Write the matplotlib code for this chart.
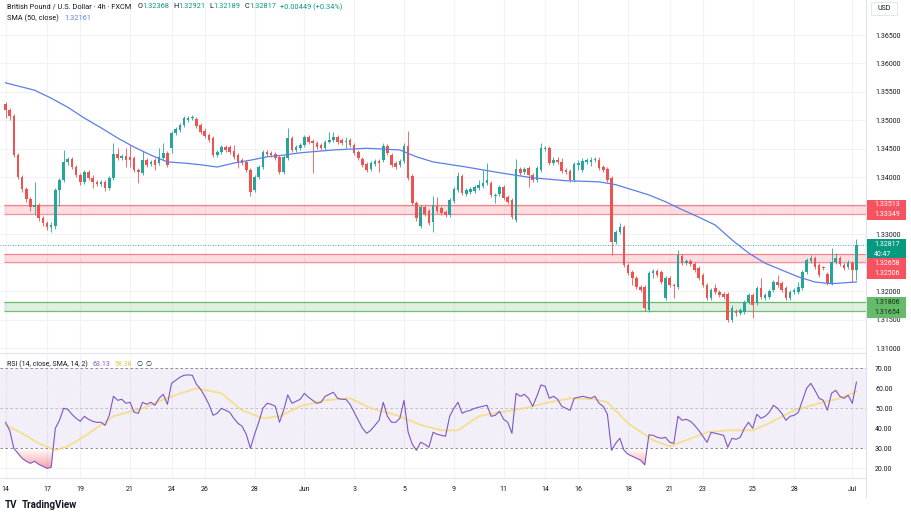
import numpy as np
import matplotlib
matplotlib.use("Agg")
import matplotlib.pyplot as plt
from matplotlib.colors import LinearSegmentedColormap
from matplotlib.path import Path
from matplotlib.patches import Rectangle

plt.rcParams['font.family'] = ['Roboto', 'DejaVu Sans']

# GBP/USD 4h candles (FXCM)
opens = [
    1.3529, 1.3518, 1.3508, 1.3439, 1.3401, 1.3380, 1.3362, 1.3348, 1.3351, 1.3328,
    1.3320, 1.3313, 1.3314, 1.3378, 1.3395, 1.3427, 1.3432, 1.3418, 1.3404, 1.3392,
    1.3409, 1.3399, 1.3392, 1.3388, 1.3392, 1.3381, 1.3399, 1.3441, 1.3434, 1.3437,
    1.3436, 1.3434, 1.3413, 1.3408, 1.3430, 1.3423, 1.3430, 1.3425, 1.3434, 1.3443,
    1.3451, 1.3478, 1.3483, 1.3492, 1.3501, 1.3504, 1.3502, 1.3492, 1.3481, 1.3474,
    1.3469, 1.3439, 1.3444, 1.3453, 1.3453, 1.3446, 1.3439, 1.3430, 1.3427, 1.3413,
    1.3378, 1.3401, 1.3418, 1.3444, 1.3443, 1.3441, 1.3436, 1.3409, 1.3434, 1.3469,
    1.3448, 1.3451, 1.3457, 1.3471, 1.3464, 1.3460, 1.3457, 1.3451, 1.3462, 1.3466,
    1.3471, 1.3466, 1.3462, 1.3466, 1.3457, 1.3444, 1.3432, 1.3423, 1.3415, 1.3423,
    1.3429, 1.3430, 1.3455, 1.3439, 1.3425, 1.3422, 1.3429, 1.3455, 1.3402, 1.3355,
    1.3314, 1.3348, 1.3341, 1.3321, 1.3349, 1.3346, 1.3339, 1.3334, 1.3358, 1.3378,
    1.3402, 1.3371, 1.3374, 1.3376, 1.3381, 1.3385, 1.3390, 1.3390, 1.3367, 1.3371,
    1.3383, 1.3365, 1.3360, 1.3325, 1.3415, 1.3409, 1.3416, 1.3404, 1.3395, 1.3413,
    1.3450, 1.3451, 1.3425, 1.3430, 1.3427, 1.3413, 1.3411, 1.3395, 1.3422, 1.3413,
    1.3427, 1.3427, 1.3430, 1.3430, 1.3418, 1.3415, 1.3399, 1.3286, 1.3304, 1.3313,
    1.3246, 1.3234, 1.3223, 1.3207, 1.3207, 1.3167, 1.3232, 1.3235, 1.3234, 1.3188,
    1.3223, 1.3211, 1.3207, 1.3262, 1.3249, 1.3253, 1.3248, 1.3240, 1.3228, 1.3211,
    1.3188, 1.3206, 1.3199, 1.3195, 1.3195, 1.3149, 1.3165, 1.3161, 1.3163, 1.3181,
    1.3193, 1.3179, 1.3206, 1.3188, 1.3190, 1.3202, 1.3216, 1.3214, 1.3206, 1.3188,
    1.3199, 1.3199, 1.3206, 1.3234, 1.3253, 1.3258, 1.3246, 1.3242, 1.3230, 1.3214,
    1.3251, 1.3258, 1.3246, 1.3242, 1.3249, 1.32368,
]
highs = [
    1.3532, 1.3522, 1.3511, 1.3443, 1.3404, 1.3383, 1.3365, 1.3392, 1.3355, 1.3332,
    1.3323, 1.3321, 1.3381, 1.3399, 1.3448, 1.3436, 1.3436, 1.3422, 1.3408, 1.3413,
    1.3413, 1.3404, 1.3395, 1.3395, 1.3395, 1.3402, 1.3460, 1.3451, 1.3441, 1.3451,
    1.3457, 1.3437, 1.3416, 1.3446, 1.3434, 1.3430, 1.3434, 1.3451, 1.3460, 1.3446,
    1.3481, 1.3488, 1.3495, 1.3508, 1.3508, 1.3509, 1.3506, 1.3495, 1.3487, 1.3478,
    1.3473, 1.3448, 1.3457, 1.3457, 1.3457, 1.3457, 1.3443, 1.3434, 1.3430, 1.3416,
    1.3404, 1.3422, 1.3448, 1.3448, 1.3446, 1.3444, 1.3439, 1.3439, 1.3487, 1.3473,
    1.3457, 1.3460, 1.3474, 1.3474, 1.3467, 1.3464, 1.3460, 1.3466, 1.3480, 1.3480,
    1.3474, 1.3469, 1.3471, 1.3469, 1.3460, 1.3448, 1.3436, 1.3427, 1.3429, 1.3432,
    1.3432, 1.3460, 1.3458, 1.3443, 1.3429, 1.3432, 1.3460, 1.3481, 1.3406, 1.3358,
    1.3351, 1.3351, 1.3344, 1.3367, 1.3365, 1.3349, 1.3342, 1.3364, 1.3383, 1.3409,
    1.3406, 1.3381, 1.3383, 1.3387, 1.3395, 1.3413, 1.3425, 1.3394, 1.3372, 1.3387,
    1.3387, 1.3369, 1.3364, 1.3432, 1.3418, 1.3418, 1.3420, 1.3408, 1.3420, 1.3460,
    1.3455, 1.3455, 1.3436, 1.3436, 1.3434, 1.3416, 1.3415, 1.3427, 1.3430, 1.3434,
    1.3434, 1.3436, 1.3436, 1.3436, 1.3422, 1.3418, 1.3402, 1.3307, 1.3320, 1.3316,
    1.3249, 1.3237, 1.3227, 1.3211, 1.3211, 1.3235, 1.3239, 1.3239, 1.3237, 1.3227,
    1.3227, 1.3214, 1.3272, 1.3265, 1.3256, 1.3256, 1.3251, 1.3244, 1.3232, 1.3214,
    1.3206, 1.3213, 1.3202, 1.3199, 1.3199, 1.3176, 1.3169, 1.3170, 1.3184, 1.3197,
    1.3197, 1.3209, 1.3223, 1.3197, 1.3204, 1.3220, 1.3228, 1.3218, 1.3209, 1.3202,
    1.3206, 1.3216, 1.3237, 1.3258, 1.3263, 1.3262, 1.3249, 1.3244, 1.3234, 1.3276,
    1.3267, 1.3262, 1.3249, 1.3255, 1.3253, 1.32921,
]
lows = [
    1.3504, 1.3501, 1.3436, 1.3397, 1.3374, 1.3356, 1.3341, 1.3334, 1.3323, 1.3314,
    1.3307, 1.3304, 1.3309, 1.3349, 1.3392, 1.3422, 1.3415, 1.3401, 1.3387, 1.3388,
    1.3395, 1.3381, 1.3385, 1.3385, 1.3376, 1.3378, 1.3395, 1.3430, 1.3430, 1.3418,
    1.3418, 1.3409, 1.3390, 1.3404, 1.3418, 1.3420, 1.3413, 1.3422, 1.3430, 1.3418,
    1.3443, 1.3474, 1.3480, 1.3488, 1.3497, 1.3501, 1.3487, 1.3476, 1.3469, 1.3462,
    1.3436, 1.3436, 1.3441, 1.3444, 1.3441, 1.3432, 1.3416, 1.3422, 1.3409, 1.3367,
    1.3374, 1.3397, 1.3415, 1.3437, 1.3436, 1.3430, 1.3406, 1.3406, 1.3430, 1.3444,
    1.3444, 1.3448, 1.3453, 1.3458, 1.3408, 1.3450, 1.3448, 1.3448, 1.3460, 1.3462,
    1.3458, 1.3457, 1.3451, 1.3453, 1.3439, 1.3430, 1.3418, 1.3409, 1.3411, 1.3420,
    1.3409, 1.3427, 1.3439, 1.3418, 1.3415, 1.3418, 1.3425, 1.3395, 1.3351, 1.3323,
    1.3311, 1.3332, 1.3316, 1.3304, 1.3337, 1.3334, 1.3330, 1.3330, 1.3355, 1.3374,
    1.3369, 1.3367, 1.3371, 1.3372, 1.3378, 1.3381, 1.3387, 1.3365, 1.3355, 1.3367,
    1.3360, 1.3353, 1.3327, 1.3321, 1.3404, 1.3406, 1.3383, 1.3392, 1.3392, 1.3409,
    1.3446, 1.3422, 1.3422, 1.3423, 1.3408, 1.3406, 1.3392, 1.3392, 1.3413, 1.3409,
    1.3423, 1.3420, 1.3427, 1.3413, 1.3409, 1.3392, 1.3263, 1.3283, 1.3300, 1.3242,
    1.3228, 1.3211, 1.3204, 1.3199, 1.3165, 1.3163, 1.3223, 1.3225, 1.3213, 1.3184,
    1.3207, 1.3188, 1.3204, 1.3246, 1.3246, 1.3244, 1.3234, 1.3220, 1.3207, 1.3184,
    1.3184, 1.3195, 1.3190, 1.3186, 1.3146, 1.3146, 1.3156, 1.3158, 1.3160, 1.3177,
    1.3153, 1.3176, 1.3186, 1.3184, 1.3186, 1.3199, 1.3207, 1.3199, 1.3184, 1.3184,
    1.3195, 1.3195, 1.3202, 1.3230, 1.3249, 1.3239, 1.3225, 1.3237, 1.3211, 1.3211,
    1.3248, 1.3244, 1.3237, 1.3239, 1.3216, 1.32189,
]
closes = [
    1.3518, 1.3508, 1.3439, 1.3401, 1.3380, 1.3362, 1.3348, 1.3351, 1.3328, 1.3320,
    1.3313, 1.3316, 1.3378, 1.3395, 1.3427, 1.3432, 1.3418, 1.3404, 1.3392, 1.3409,
    1.3399, 1.3392, 1.3388, 1.3392, 1.3381, 1.3399, 1.3441, 1.3434, 1.3437, 1.3430,
    1.3430, 1.3413, 1.3409, 1.3430, 1.3422, 1.3427, 1.3422, 1.3436, 1.3443, 1.3422,
    1.3478, 1.3485, 1.3492, 1.3504, 1.3504, 1.3506, 1.3490, 1.3480, 1.3473, 1.3466,
    1.3439, 1.3444, 1.3453, 1.3448, 1.3444, 1.3436, 1.3427, 1.3425, 1.3413, 1.3374,
    1.3401, 1.3418, 1.3444, 1.3441, 1.3439, 1.3434, 1.3409, 1.3436, 1.3469, 1.3448,
    1.3453, 1.3457, 1.3471, 1.3462, 1.3460, 1.3453, 1.3451, 1.3462, 1.3466, 1.3471,
    1.3462, 1.3460, 1.3464, 1.3457, 1.3443, 1.3434, 1.3422, 1.3413, 1.3425, 1.3429,
    1.3425, 1.3455, 1.3443, 1.3422, 1.3418, 1.3429, 1.3455, 1.3399, 1.3355, 1.3328,
    1.3348, 1.3336, 1.3320, 1.3351, 1.3341, 1.3337, 1.3334, 1.3360, 1.3380, 1.3402,
    1.3372, 1.3378, 1.3380, 1.3383, 1.3387, 1.3390, 1.3395, 1.3369, 1.3369, 1.3383,
    1.3364, 1.3356, 1.3330, 1.3415, 1.3408, 1.3415, 1.3404, 1.3395, 1.3416, 1.3451,
    1.3451, 1.3425, 1.3430, 1.3427, 1.3411, 1.3409, 1.3395, 1.3423, 1.3425, 1.3429,
    1.3430, 1.3430, 1.3432, 1.3416, 1.3413, 1.3395, 1.3286, 1.3304, 1.3313, 1.3246,
    1.3232, 1.3223, 1.3207, 1.3202, 1.3170, 1.3232, 1.3235, 1.3228, 1.3216, 1.3223,
    1.3211, 1.3209, 1.3263, 1.3249, 1.3253, 1.3248, 1.3237, 1.3223, 1.3211, 1.3188,
    1.3202, 1.3199, 1.3193, 1.3190, 1.3149, 1.3170, 1.3161, 1.3167, 1.3181, 1.3193,
    1.3176, 1.3206, 1.3190, 1.3193, 1.3200, 1.3216, 1.3211, 1.3202, 1.3188, 1.3199,
    1.3202, 1.3207, 1.3234, 1.3255, 1.3258, 1.3242, 1.3228, 1.3240, 1.3214, 1.3251,
    1.3258, 1.3248, 1.3240, 1.3249, 1.3237, 1.32817,
]

# SMA(50, close) read at sample candles
sma_idx = [0, 7, 11, 15, 19, 23, 27, 31, 35, 39, 43, 47, 51, 55, 59, 63, 67, 71, 79, 87,
           95, 99, 103, 111, 119, 127, 135, 143, 147, 151, 155, 159, 163, 167, 171, 175,
           179, 183, 187, 191, 195, 199, 205]
sma_val = [1.3566, 1.3553, 1.3539, 1.3523, 1.3504, 1.3487, 1.3469, 1.3453, 1.3439, 1.3427,
           1.3425, 1.3422, 1.3418, 1.3425, 1.3430, 1.3436, 1.3439, 1.3443, 1.3448, 1.3451,
           1.3448, 1.3436, 1.3427, 1.3418, 1.3408, 1.3399, 1.3394, 1.3392, 1.3387, 1.3378,
           1.3369, 1.3357, 1.3343, 1.3330, 1.3316, 1.3290, 1.3267, 1.3249, 1.3237, 1.3225,
           1.3216, 1.3213, 1.32161]

# RSI(14) per candle
rsi_vals = [
    43, 39, 30, 27.5, 25, 23.5, 22.5, 23.5, 22, 21,
    20, 20.5, 40, 44, 50, 49.5, 47, 45, 43.5, 46,
    44.5, 43.5, 43, 43, 41.5, 46.5, 56, 54, 54.5, 52.5,
    53, 48, 47.5, 53, 52, 53, 51.5, 55, 57, 52,
    62.5, 64, 65.5, 66.5, 66.7, 66.5, 62, 59.5, 56, 52,
    46.5, 47.5, 50, 49, 48, 45, 42.5, 41, 37, 30,
    37, 43, 50, 52.5, 52, 51, 43, 49, 56.7, 52.5,
    53.5, 54.5, 57.5, 55.5, 54, 52.5, 53, 56, 57, 58,
    55, 54.5, 54.5, 52, 48, 44, 40, 37.5, 39, 41.5,
    44, 53, 46, 43, 43, 45, 54, 38, 32, 29,
    33, 32, 30.5, 38, 37, 36.5, 36, 46, 50, 53,
    47.5, 48.5, 49, 50, 50.5, 51, 51.5, 46, 46.5, 48.5,
    44.5, 43, 37.5, 57.5, 56, 57, 55, 51, 56, 61.7,
    61, 55, 56, 54.5, 51, 50, 49, 55, 55.5, 56,
    55.5, 55, 56, 52.5, 51, 47, 29, 32.5, 35, 29,
    27, 26, 25, 24, 21.7, 36.7, 36.5, 35.5, 35, 35.5,
    33, 32.5, 46, 44, 44.5, 43.5, 41.5, 39, 36, 33,
    38, 37.5, 37, 36.5, 30.5, 35, 34.5, 35.5, 40, 43,
    40, 47, 45, 46, 48, 51.5, 50, 47.5, 44, 46,
    46.5, 48, 54, 60, 62.5, 59, 55, 54, 49, 57.5,
    59, 56, 55, 56.5, 52.5, 63.13,
]

# SMA(14) of RSI, read at sample candles
rsi_ma_idx = [0, 4, 8, 12, 15, 19, 26, 33, 40, 46, 52, 57, 62, 66, 71, 77, 83, 88, 94, 100,
              105, 109, 114, 119, 125, 131, 136, 142, 145, 150, 156, 160, 164, 169, 174,
              180, 184, 190, 196, 201, 205]
rsi_ma_val = [41.7, 37.5, 32.5, 29, 31, 36, 46, 50, 56, 60, 57.5, 49, 45, 46, 51, 54, 55, 50,
              46.7, 41.7, 39, 39, 46, 48, 50, 53, 55, 54.5, 53, 42.5, 34, 31, 34, 38, 39, 39,
              42.5, 49, 52.5, 55, 58.38]

# date axis (candle index of first bar of each labelled day)
day_pos = [0, 10, 18, 30, 40, 48, 60, 72, 84, 96, 108, 120, 130, 138, 150, 160, 168, 180, 190, 204]
day_labels = ["14", "17", "19", "21", "24", "26", "28", "Jun", "3", "5", "9", "11", "14", "16",
              "18", "21", "23", "25", "28", "Jul"]

red_zones = [(1.33349, 1.33513), (1.32506, 1.32658)]
green_zones = [(1.31654, 1.31806)]
last_price = 1.32817
sma_last = 1.32161
countdown = "40:47"

UP = '#26a69a'
DN = '#ef5350'
GRID = '#f0f2f7'
TXT = '#131722'
TEAL = '#089981'

W, H = 912, 513
PTOP, PBOT = 1.37115, 1.30930
RTOP, RBOT = 77.65, 15.15
XL, XR = -1.33, 207.3


def box(x0, y0, x1, y1):
    return [x0 / W, 1 - y1 / H, (x1 - x0) / W, (y1 - y0) / H]


fig = plt.figure(figsize=(W / 100, H / 100), dpi=100)
ax = fig.add_axes(box(0, 0, 866, 352))
rx = fig.add_axes(box(0, 353, 866, 478), sharex=ax)

idx = np.arange(len(closes))
o, h, l, c = map(np.array, (opens, highs, lows, closes))
cols = np.where(c >= o, UP, DN)

# grid
yt = np.arange(1.310, 1.3651, 0.005)
for a in (ax, rx):
    for t in day_pos:
        a.axvline(t, color=GRID, lw=0.8, zorder=0)
for t in yt:
    ax.axhline(t, color=GRID, lw=0.8, zorder=0)

# zones
for lo, hi in red_zones:
    ax.fill_between([-0.3, XR], lo, hi, color='#f23645', alpha=0.16, lw=0, zorder=1)
    ax.hlines([lo, hi], -0.3, XR, color='#f23645', alpha=0.55, lw=0.9, zorder=1)
for lo, hi in green_zones:
    ax.fill_between([-0.3, XR], lo, hi, color='#4caf50', alpha=0.18, lw=0, zorder=1)
    ax.hlines([lo, hi], -0.3, XR, color='#4caf50', alpha=0.8, lw=0.9, zorder=1)
ax.axhline(last_price, color=TEAL, lw=0.6, ls=(0, (1, 2)), zorder=2)

# candles
ax.vlines(idx, l, h, colors=cols, lw=0.6, zorder=3)
ax.bar(idx, np.maximum(np.abs(c - o), 0.00005), bottom=np.minimum(o, c), width=0.62,
       color=cols, linewidth=0, zorder=4)
ax.plot(sma_idx, sma_val, color='#5c7fe6', lw=0.9, zorder=5)

ax.set_xlim(XL, XR)
ax.set_ylim(PBOT, PTOP)
ax.set_yticks(yt)
ax.set_yticklabels([f"{t:.5f}" for t in yt])
ax.yaxis.tick_right()
ax.tick_params(axis='y', length=0, pad=6.5, labelsize=5, labelcolor=TXT)
ax.tick_params(axis='x', length=0, labelbottom=False)

# RSI pane
r = np.array(rsi_vals)
rx.axhspan(30, 70, color='#7e57c2', alpha=0.09, lw=0, zorder=0)
for t in (20, 40, 60):
    rx.axhline(t, color=GRID, lw=0.8, zorder=0)
rx.axhline(70, color='#787b86', lw=0.6, ls=(0, (3, 3)), zorder=1)
rx.axhline(30, color='#787b86', lw=0.6, ls=(0, (3, 3)), zorder=1)
rx.axhline(50, color='#787b86', lw=0.6, ls=(0, (3, 3)), alpha=0.5, zorder=1)
fb = rx.fill_between(idx, r, 30, where=r < 30, interpolate=True, facecolor='none',
                     edgecolor='none')
paths = fb.get_paths()
if paths:
    clip = Path.make_compound_path(*paths)
    cmap = LinearSegmentedColormap.from_list('os', [(0.95, 0.21, 0.27, 0.5), (0.95, 0.21, 0.27, 0.0)])
    im = rx.imshow(np.linspace(0, 1, 64).reshape(-1, 1), extent=[idx[0], idx[-1], 19, 30],
                   origin='lower', aspect='auto', cmap=cmap, zorder=1)
    im.set_clip_path(clip, transform=rx.transData)
rx.plot(rsi_ma_idx, rsi_ma_val, color='#f5d96b', alpha=0.7, lw=1.4, zorder=2)
rx.plot(idx, r, color='#7e57c2', lw=0.8, zorder=3)

rx.set_xlim(XL, XR)
rx.set_ylim(RBOT, RTOP)
rt = [20, 30, 40, 50, 60, 70]
rx.set_yticks(rt)
rx.set_yticklabels([f"{t:.2f}" for t in rt])
rx.yaxis.tick_right()
rx.tick_params(axis='y', length=0, pad=6.5, labelsize=5, labelcolor=TXT)
rx.set_xticks(day_pos)
rx.set_xticklabels(day_labels)
rx.tick_params(axis='x', length=0, pad=6, labelsize=5, labelcolor=TXT)

for a in (ax, rx):
    for s in a.spines.values():
        s.set_visible(False)

# overlay in pixel coordinates for legends and price-axis boxes
ov = fig.add_axes([0, 0, 1, 1])
ov.set_xlim(0, W)
ov.set_ylim(H, 0)
ov.axis('off')
renderer = fig.canvas.get_renderer()

ov.plot([866, 866], [0, 497], color='#e0e3eb', lw=0.8)
ov.plot([0, 866], [352.5, 352.5], color='#e0e3eb', lw=0.8)
ov.plot([0, 866], [478, 478], color='#e0e3eb', lw=0.8)


def ypix(p):
    return (PTOP - p) / (PTOP - PBOT) * 352


def tag(y, text, face, tcol):
    ov.add_patch(Rectangle((867, y - 5.2), 39, 10.4, color=face, lw=0, zorder=5))
    ov.text(874, y, text, fontsize=5, color=tcol, va='center', ha='left', zorder=6)


def chain(x, y, pieces, fs, weight='normal'):
    # lay text pieces one after another, measuring each
    for text, color, gap in pieces:
        t = ov.text(x, y, text, fontsize=fs, color=color, va='center', ha='left', weight=weight)
        x += t.get_window_extent(renderer).width + gap


tag(ypix(red_zones[0][1]), f"{red_zones[0][1]:.5f}", '#f7525f', 'white')
tag(ypix(red_zones[0][0]), f"{red_zones[0][0]:.5f}", '#f7525f', 'white')
yl = ypix(last_price)
tag(yl, f"{last_price:.5f}", TEAL, 'white')
tag(yl + 9.5, countdown, TEAL, 'white')
tag(yl + 19, f"{red_zones[1][1]:.5f}", '#f7525f', 'white')
tag(yl + 29, f"{red_zones[1][0]:.5f}", '#f7525f', 'white')
yg = ypix(green_zones[0][1])
tag(yg, f"{green_zones[0][1]:.5f}", '#66bb6a', '#0f2e12')
tag(yg + 10.4, f"{green_zones[0][0]:.5f}", '#66bb6a', '#0f2e12')

ov.add_patch(Rectangle((871, 1.5), 26, 13, fill=False, ec='#e0e3eb', lw=0.6))
ov.text(884, 8, "USD", fontsize=5, color=TXT, ha='center', va='center')

# legends
chain(7, 7, [("British Pound / U.S. Dollar · 4h · FXCM", TXT, 6),
             ("O", TXT, 0), (f"{opens[-1]:.5f}", TEAL, 4),
             ("H", TXT, 0), (f"{highs[-1]:.5f}", TEAL, 4),
             ("L", TXT, 0), (f"{lows[-1]:.5f}", TEAL, 4),
             ("C", TXT, 0), (f"{closes[-1]:.5f}", TEAL, 4),
             ("+0.00449 (+0.34%)", TEAL, 0)], 5.3)
chain(7, 18, [("SMA (50, close)", TXT, 5), (f"{sma_last:.5f}", '#5c7fe6', 0)], 5.3)
chain(7, 364, [("RSI (14, close, SMA, 14, 2)", TXT, 5),
               (f"{rsi_vals[-1]:.2f}", '#7e57c2', 4),
               (f"{rsi_ma_val[-1]:.2f}", '#e8c547', 4),
               ("∅", TXT, 3), ("∅", TXT, 0)], 5)
chain(5, 505, [("TV", TXT, 4), ("TradingView", TXT, 0)], 7, weight='bold')

fig.savefig("out.png", dpi=100, facecolor='white')
